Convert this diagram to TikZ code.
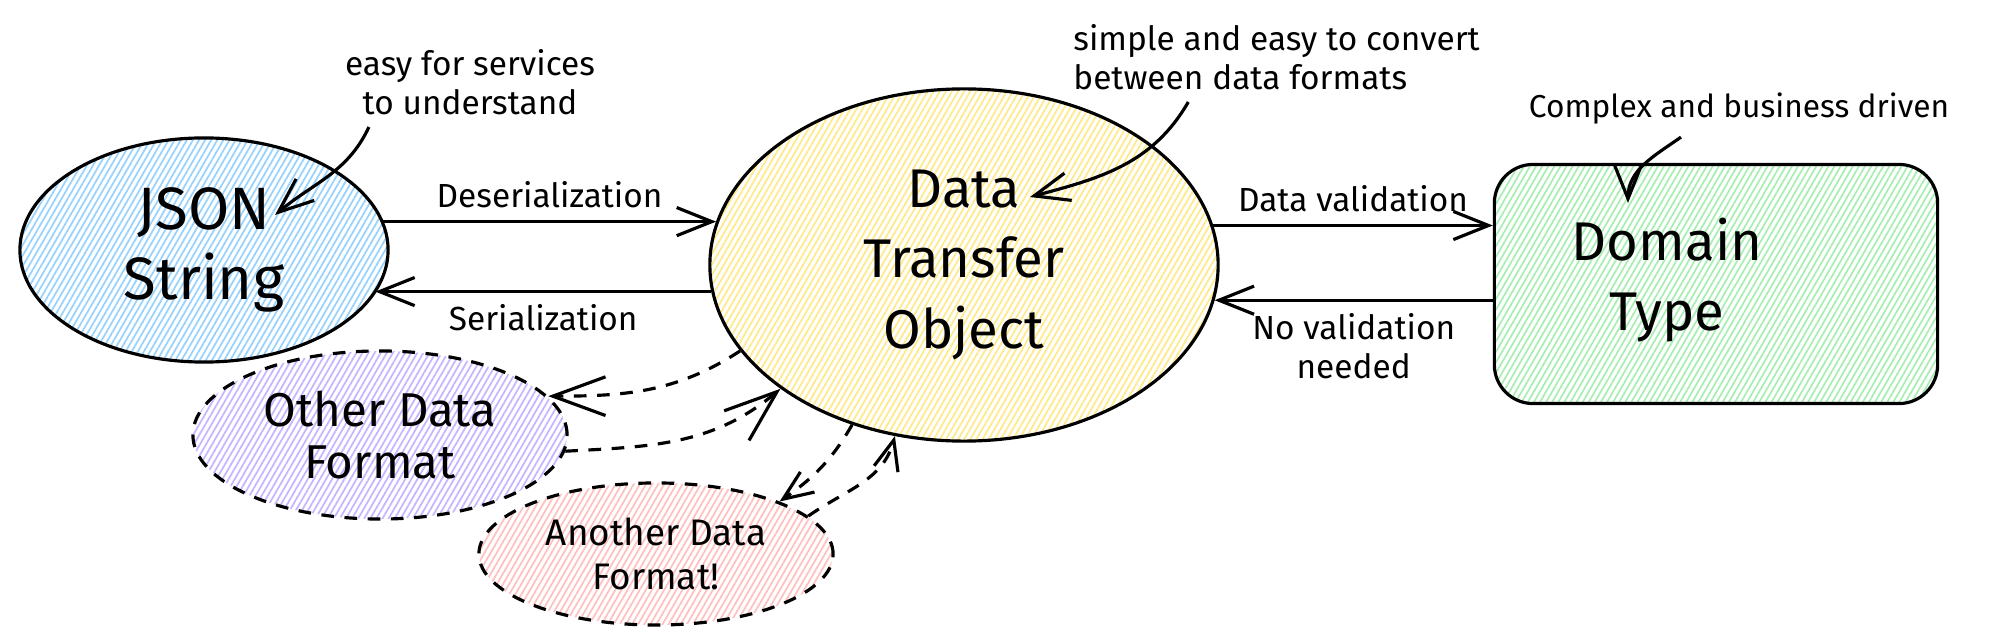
\documentclass[tikz,border=0pt]{standalone}
\usepackage{fontspec}
\setmainfont{Fira Sans}
\usetikzlibrary{positioning,shapes.geometric,arrows.meta,patterns.meta}
\definecolor{jsonblue}{HTML}{99D2FD}
\definecolor{dtoyellow}{HTML}{FFE98A}
\definecolor{domgreen}{HTML}{A8EEB2}
\definecolor{othviolet}{HTML}{C8B5FF}
\definecolor{anored}{HTML}{FFC0C0}
\tikzset{
  hatch/.style={pattern={Lines[angle=60,distance=1.5pt,line width=.5pt]}, pattern color=#1},
  bubble/.style={ellipse, draw, line width=.9pt, align=center, inner sep=1pt},
  dashbubble/.style={bubble, dash pattern=on 3.6pt off 3pt},
  bigtext/.style={font=\fontsize{15.5}{20}\selectfont},
  midtext/.style={font=\fontsize{13.5}{15}\selectfont},
  smalltext/.style={font=\fontsize{10.5}{12.5}\selectfont},
  notetext/.style={font=\fontsize{9.5}{11}\selectfont},
  conn/.style={line width=.9pt, -{Straight Barb[length=10pt,width=8pt]}},
  dconn/.style={line width=.9pt, dash pattern=on 3.6pt off 3pt, -{Straight Barb[length=15pt,width=11pt]}},
  sdconn/.style={dconn, -{Straight Barb[length=8.5pt,width=7pt]}},
}
\begin{document}
\begin{tikzpicture}[x=0.01cm,y=-0.01cm]
  \useasboundingbox (0,0) rectangle (1990,643);

  % main shapes
  \node[bubble, hatch=jsonblue, minimum width=3.68cm, minimum height=2.24cm, font=\fontsize{17}{20}\selectfont] (json) at (204,250) {JSON\\String};
  \node[bubble, hatch=dtoyellow, minimum width=5.08cm, minimum height=3.52cm, bigtext] (dto) at (964,265) {Data\\Transfer\\Object};
  \node[draw, line width=.9pt, rounded corners=11pt, hatch=domgreen, minimum width=4.43cm, minimum height=2.39cm] (domain) at (1716,284) {};
  \node[bigtext, align=center] (domaintxt) at (1667,280) {Domain\\Type};
  \node[dashbubble, hatch=othviolet, minimum width=3.74cm, minimum height=1.68cm, midtext] (other) at (380,435) {Other Data\\Format};
  \node[dashbubble, hatch=anored, minimum width=3.54cm, minimum height=1.42cm, smalltext] (another) at (656,554) {Another Data\\Format!};

  % notes
  \node[notetext, align=center] (easy) at (470,82) {easy for services\\to understand};
  \node[notetext, align=left, anchor=west] (simple) at (1061,57) {simple and easy to convert\\between data formats};
  \node[notetext, font=\fontsize{9}{11}\selectfont] (complex) at (1739,109) {Complex and business driven};
  \coordinate (easyto) at (275,215);
  \coordinate (simpleto) at (1030,197);
  \coordinate (complexto) at (1628,203);

  \draw[conn] (easy.204) to[out=-115, in=40] (easyto);
  \draw[conn] (simple.207) to[out=-120, in=15] (simpleto);
  \draw[conn] ([xshift=-0.58cm]complex.south) to[out=-145, in=90] (complexto);

  % conversions
  \draw[conn] (json.9) -- (json.9 -| dto.170) node[midway, above, notetext] {Deserialization};
  \draw[conn] (dto.186) -- (dto.186 -| json.-14) node[midway, below, notetext] {Serialization};
  \draw[conn] (dto.9) -- (dto.9 -| domain.west) node[midway, above, notetext] {Data validation};
  \draw[conn] (domain.west |- dto.-8.5) -- (dto.-8.5) node[midway, below, notetext, align=center] {No validation\\needed};

  \draw[dconn] (dto.201) to[out=213, in=0] (other.13);
  \draw[dconn] (other.-5) to[out=3, in=220] (dto.214);
  \draw[sdconn] (dto.-125) to[out=240, in=35] (another.23);
  \draw[sdconn] (another.14) to[out=35, in=255] (dto.-112);
\end{tikzpicture}
\end{document}
